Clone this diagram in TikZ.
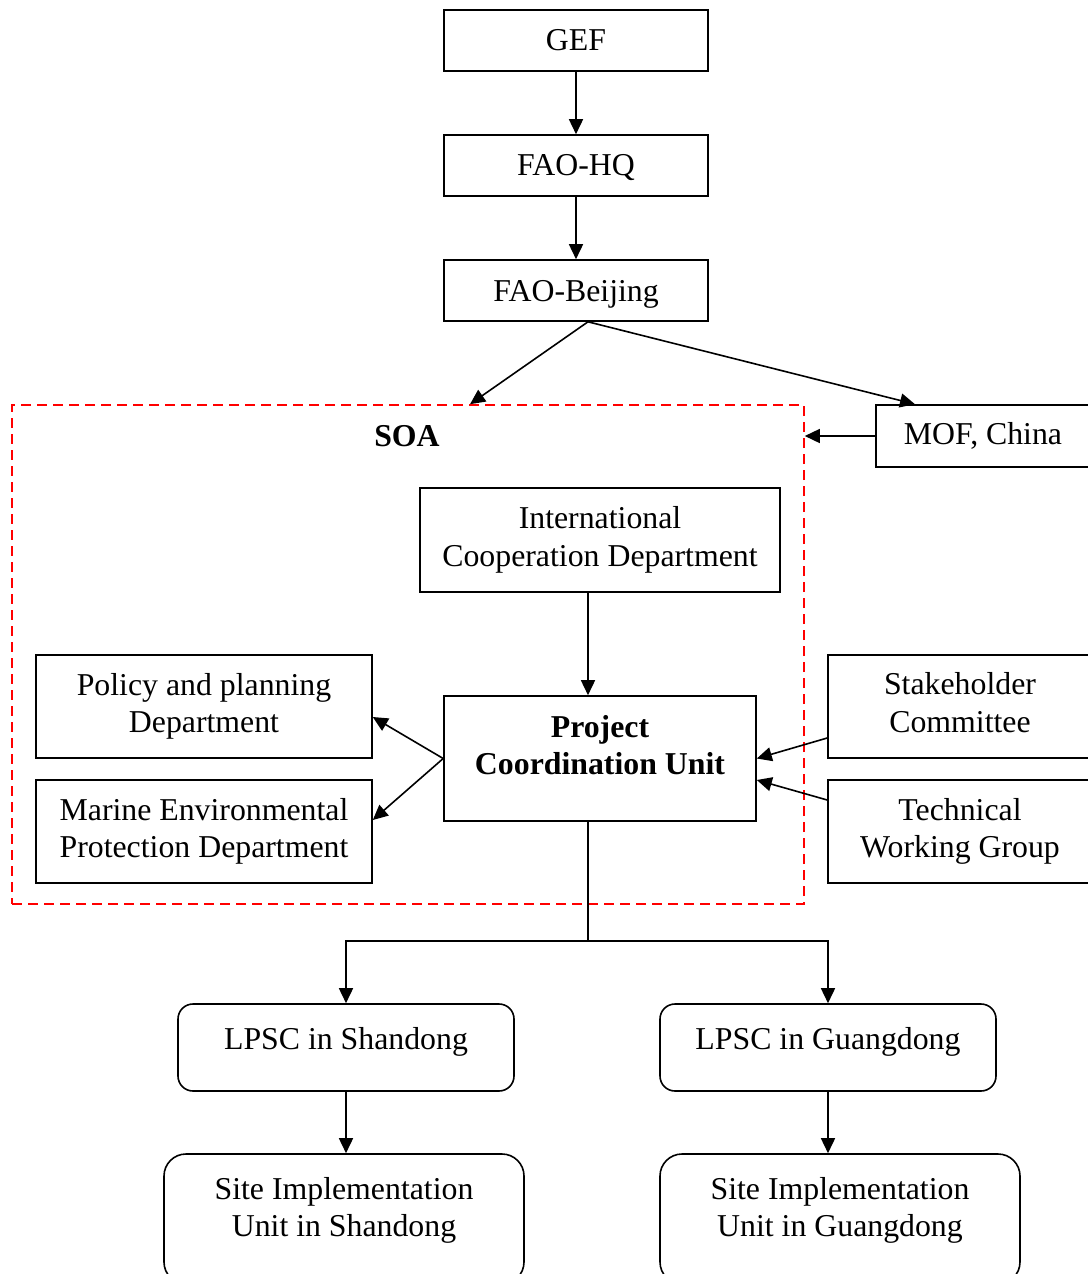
\documentclass[tikz,border=0pt]{standalone}
\usepackage{fontspec}
\setmainfont{Liberation Serif}
\usetikzlibrary{arrows.meta}
\newcommand{\fs}{\fontsize{31.8}{37.5}\selectfont}
\newcommand{\dpt}[1]{\rule[-#1pt]{0pt}{#1pt}}
\newcommand{\hgt}[1]{\rule{0pt}{#1pt}}
\begin{document}
\begin{tikzpicture}[x=1pt, y=-1pt, line width=1.6pt,
	every node/.style={font=\fs, align=center, inner sep=0pt},
	box/.style={draw, minimum width=#1},
	arr/.style={-{Triangle[length=15pt, width=14pt]}}]
	\useasboundingbox (0,0) rectangle (1087,1274);
	% top chain
	\node[box=264pt, minimum height=61pt] (gef) at (576,40.5) {GEF};
	\node[box=264pt, minimum height=61pt] (hq) at (576,165.5) {\hgt{26}FAO-HQ};
	\node[box=264pt, minimum height=61pt] (bj) at (576,290.5) {\hgt{28}FAO-Beijing};
	\node[draw=red, dash pattern=on 10pt off 6pt, minimum width=792pt, minimum height=499pt] (soa) at (408,654.5) {};
	\node (soat) at (407,436) {\textbf{SOA}};
	\node[box=214pt, minimum height=62pt] (mof) at (983,436) {MOF, China};
	% inside SOA
	\node[box=360pt, minimum height=104pt] (icd) at (600,540) {International\\Cooperation Department};
	\node[box=312pt, minimum height=125pt, font=\fs\bfseries] (pcu) at (600,758.5) {Project\\Coordination Unit\dpt{27}};
	\node[box=336pt, minimum height=103pt] (pol) at (204,706.5) {Policy and planning\\Department};
	\node[box=336pt, minimum height=103pt] (mep) at (204,831.5) {Marine Environmental\\Protection Department};
	\node[box=264pt, minimum height=103pt] (stk) at (960,706.5) {Stakeholder\\Committee\dpt{8}};
	\node[box=264pt, minimum height=103pt] (twg) at (960,831.5) {Technical\\Working Group};
	% provinces
	\node[box=336pt, minimum height=87pt, rounded corners=15pt] (lps) at (346,1047.5) {LPSC in Shandong\dpt{19}};
	\node[box=336pt, minimum height=87pt, rounded corners=15pt] (lpg) at (828,1047.5) {LPSC in Guangdong\dpt{19}};
	\node[box=360pt, minimum height=130pt, rounded corners=22pt] (sis) at (344,1219) {Site Implementation\\Unit in Shandong\dpt{24}};
	\node[box=360pt, minimum height=130pt, rounded corners=22pt] (sig) at (840,1219) {Site Implementation\\Unit in Guangdong\dpt{24}};
	\coordinate (split) at (588,941);

	\draw[arr] (gef) -- (hq);
	\draw[arr] (hq) -- (bj);
	\draw[arr] ([xshift=12pt]bj.south) -- ([xshift=62pt]soa.north);
	\draw[arr] ([xshift=12pt]bj.south) -- ([xshift=-68pt]mof.north);
	\draw[arr] (mof.west) -- (mof.west -| soa.east);
	\draw[arr] ([xshift=-12pt]icd.south) -- ([xshift=-12pt]pcu.north);
	\draw[arr] (pcu.west) -- ([yshift=-10.5pt]pol.east);
	\draw[arr] (pcu.west) -- ([yshift=11.5pt]mep.east);
	\draw[arr] ([yshift=-31.5pt]stk.west) -- (pcu.east);
	\draw[arr] ([yshift=31.5pt]twg.west) -- ([yshift=-21.5pt]pcu.east);
	\draw ([xshift=-12pt]pcu.south) -- (split);
	\draw[arr] (split) -| (lps.north);
	\draw[arr] (split) -| (lpg.north);
	\draw[arr] (lps.south) -- (lps.south |- sis.north);
	\draw[arr] (lpg.south) -- (lpg.south |- sig.north);
\end{tikzpicture}
\end{document}
